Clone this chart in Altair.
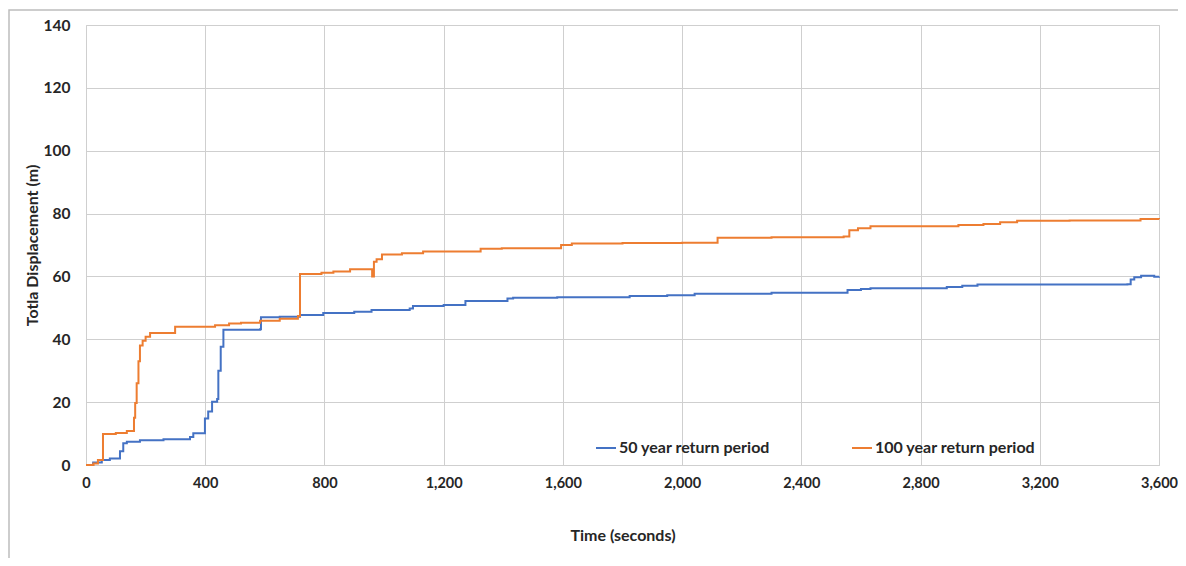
import altair as alt
import pandas as pd

# 50 year return period (time s, displacement m)
t50 = [0, 24, 53, 80, 114, 125, 137, 181, 260, 349, 360, 399, 410, 423, 440, 444, 452, 461,
       584, 587, 650, 718, 796, 900, 958, 1086, 1097, 1200, 1273, 1414, 1433, 1581, 1824,
       1950, 2042, 2300, 2555, 2600, 2632, 2888, 2940, 2991, 3494, 3505, 3517, 3540, 3584, 3600]
v50 = [0, 0.8, 1.6, 2.1, 4.4, 6.9, 7.4, 7.9, 8.2, 8.9, 10.1, 14.8, 17, 20.1, 21, 30, 37.6, 43,
       43.2, 47.0, 47.2, 47.7, 48.4, 48.8, 49.3, 49.8, 50.6, 50.9, 52.2, 53.0, 53.2, 53.4, 53.8,
       54.0, 54.5, 54.8, 55.7, 56.0, 56.2, 56.6, 57.0, 57.4, 57.5, 59.0, 59.7, 60.2, 59.9, 60.0]

# 100 year return period (time s, displacement m)
t100 = [0, 25, 40, 57, 100, 137, 161, 165, 170, 176, 181, 190, 200, 215, 299, 433, 480, 520,
        584, 650, 711, 718, 790, 830, 886, 960, 966, 975, 993, 1060, 1131, 1324, 1395, 1594,
        1630, 1800, 2000, 2119, 2300, 2542, 2561, 2590, 2632, 2800, 2927, 3011, 3067, 3124,
        3300, 3538, 3600]
v100 = [0, 0.5, 1.6, 9.9, 10.2, 10.8, 15, 19.7, 26, 33, 38, 39.5, 40.8, 42, 44, 44.5, 45, 45.3,
        45.9, 46.5, 47.4, 60.8, 61.2, 61.6, 62.3, 60.0, 64.7, 65.5, 67.0, 67.4, 67.9, 68.8, 69.0, 70.0,
        70.5, 70.6, 70.7, 72.3, 72.5, 72.7, 74.7, 75.3, 76.0, 76.0, 76.4, 76.7, 77.2, 77.7,
        77.8, 78.3, 78.2]

series_names = ["50 year return period", "100 year return period"]
series_colors = ["#4472C4", "#ED7D31"]
x_ticks = [0, 400, 800, 1200, 1600, 2000, 2400, 2800, 3200, 3600]
y_ticks = [0, 20, 40, 60, 80, 100, 120, 140]

df = pd.concat([
    pd.DataFrame({"time": t50, "disp": v50, "series": series_names[0]}),
    pd.DataFrame({"time": t100, "disp": v100, "series": series_names[1]}),
])

FONT = "Lato"
TXT = "#262626"
FS = 15.5

lines = alt.Chart(df).mark_line(interpolate="step-after", strokeWidth=2).encode(
    x=alt.X("time:Q",
            scale=alt.Scale(domain=[0, 3600], nice=False),
            axis=alt.Axis(values=x_ticks, format=",d", title="Time (seconds)",
                          grid=True, gridColor="#cfcfcf", ticks=False, labelFlush=False,
                          domainColor="#cfcfcf", labelPadding=11,
                          labelFont=FONT, labelFontSize=14.5, labelFontWeight="bold", labelColor=TXT,
                          titleFont=FONT, titleFontSize=16, titleFontWeight="bold", titleColor=TXT,
                          titleY=62, titleBaseline="top")),
    y=alt.Y("disp:Q",
            scale=alt.Scale(domain=[0, 140], nice=False),
            axis=alt.Axis(values=y_ticks, title="Totla Displacement (m)",
                          grid=True, gridColor="#cfcfcf", ticks=False, domain=False,
                          labelPadding=16, labelFlush=False,
                          labelFont=FONT, labelFontSize=FS, labelFontWeight="bold", labelColor=TXT,
                          titleFont=FONT, titleFontSize=16, titleFontWeight="bold", titleColor=TXT,
                          titleX=-54, titleY=220, titleBaseline="middle", titleAlign="center")),
    color=alt.Color("series:N",
                    scale=alt.Scale(domain=series_names, range=series_colors),
                    legend=alt.Legend(title=None, orient="none", legendX=509, legendY=412,
                                      direction="horizontal", symbolType="stroke",
                                      symbolSize=400, symbolStrokeWidth=2, labelOffset=2,
                                      columnPadding=77, padding=0, labelLimit=400,
                                      labelFont=FONT, labelFontSize=16, labelFontWeight="bold",
                                      labelColor=TXT)),
)

frame = alt.Chart(pd.DataFrame({"a": [0]})).mark_rect(
    fillOpacity=0, stroke="#bdbdbd", strokeWidth=1.5
).encode(
    x=alt.value(-77), x2=alt.value(1200), y=alt.value(-15), y2=alt.value(600)
)

chart = alt.layer(lines, frame).properties(
    width=1073, height=440,
    autosize=alt.AutoSizeParams(type="none"),
    padding={"left": 78, "top": 17, "right": 19, "bottom": 93},
    background="white",
).configure_view(stroke="#d9d9d9", strokeWidth=1)

chart.save("out.html", embed_options={"renderer": "svg", "actions": False})
